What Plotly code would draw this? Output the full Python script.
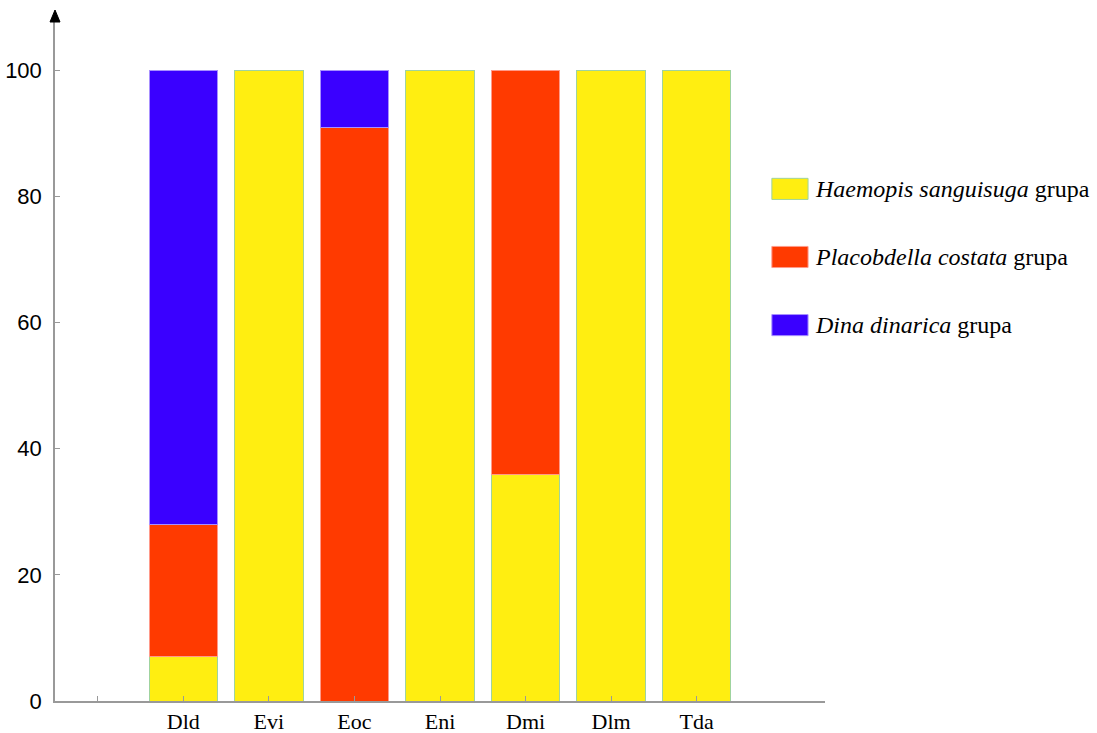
import plotly.graph_objects as go

categories = ["Dld", "Evi", "Eoc", "Eni", "Dmi", "Dlm", "Tda"]
haemopis = [7, 100, 0, 100, 36, 100, 100]
placobdella = [21, 0, 91, 0, 64, 0, 0]
dina = [72, 0, 9, 0, 0, 0, 0]
y_ticks = [0, 20, 40, 60, 80, 100]

series = [
    ("Haemopis sanguisuga", haemopis, "#FFEE11", "#9FD39F"),
    ("Placobdella costata", placobdella, "#FF3A00", "#FF9A8A"),
    ("Dina dinarica", dina, "#3A00FF", "#A890FF"),
]

xpos = list(range(len(categories)))

fig = go.Figure()
for name, vals, col, edge in series:
    fig.add_trace(go.Bar(
        x=xpos, y=[v if v else None for v in vals], name=name, width=0.8,
        marker=dict(color=col, line=dict(color=edge, width=1)),
        showlegend=False,
    ))

fig.update_layout(
    barmode="stack",
    width=1097, height=733,
    margin=dict(l=55, r=272, t=20, b=32),
    paper_bgcolor="white", plot_bgcolor="white",
)
fig.update_xaxes(
    range=[-1.5, 7.5], automargin=False,
    tickvals=[-1] + xpos, ticktext=[""] + categories,
    ticks="inside", ticklen=5, tickcolor="#999999",
    showline=True, linecolor="#999999", linewidth=1.5,
    showgrid=False, zeroline=False,
    tickfont=dict(family="Liberation Serif", size=22, color="black"),
    ticklabelstandoff=0,
)
fig.update_yaxes(
    range=[0, 108], automargin=False,
    tickvals=y_ticks,
    ticks="inside", ticklen=5, tickcolor="#999999",
    showline=True, linecolor="#999999", linewidth=1.5,
    showgrid=False, zeroline=False,
    tickfont=dict(family="Liberation Sans", size=22, color="black"),
    ticklabelstandoff=7,
)

# arrow at top of y axis
fig.add_shape(type="path", xref="paper", yref="paper",
              xsizemode="pixel", ysizemode="pixel", xanchor=0, yanchor=1,
              path="M-5,-2 L5,-2 L0,10 Z",
              fillcolor="black", line=dict(color="black", width=1))

# custom legend
leg_y = [0.752, 0.652, 0.552]
for (name, vals, col, edge), yy in zip(series, leg_y):
    fig.add_shape(type="rect", xref="paper", yref="paper",
                  x0=0.931, x1=0.978, y0=yy - 0.0155, y1=yy + 0.0155,
                  fillcolor=col, line=dict(color=edge, width=1))
    fig.add_annotation(xref="paper", yref="paper", x=0.985, y=yy,
                       xanchor="left", yanchor="middle", showarrow=False,
                       text=f"<i>{name}</i> grupa",
                       font=dict(family="Liberation Serif", size=24, color="black"))

fig.write_html("out.html", config={"displayModeBar": False},
               post_script="document.body.style.margin='0';document.body.style.overflow='hidden';")
